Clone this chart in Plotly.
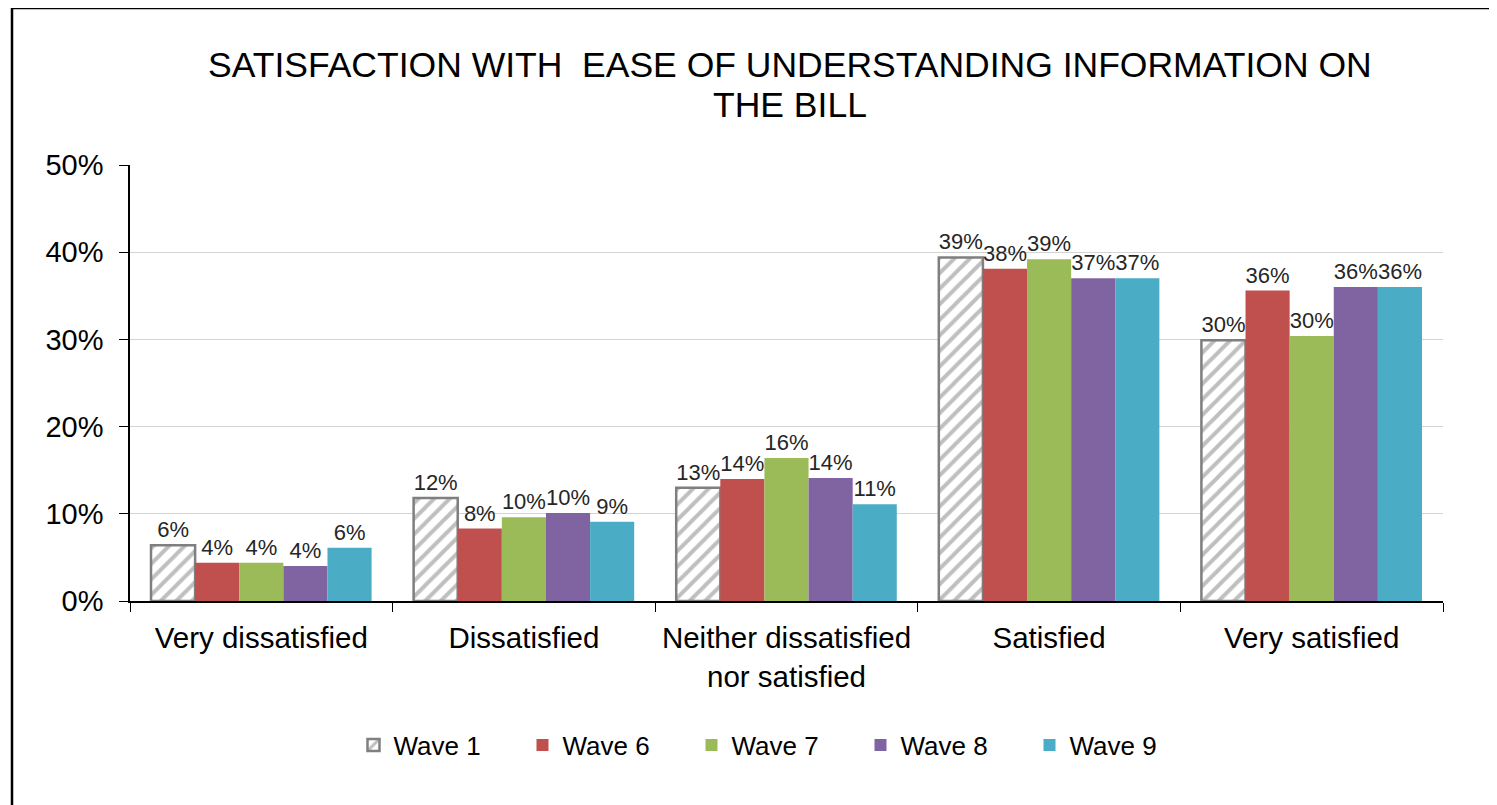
import plotly.graph_objects as go

categories = ["Very dissatisfied", "Dissatisfied", "Neither dissatisfied<br>nor satisfied", "Satisfied", "Very satisfied"]
series_names = ["Wave 1", "Wave 6", "Wave 7", "Wave 8", "Wave 9"]
wave1 = [0.064, 0.118, 0.130, 0.394, 0.299]
wave6 = [0.044, 0.083, 0.140, 0.381, 0.356]
wave7 = [0.044, 0.096, 0.164, 0.392, 0.304]
wave8 = [0.040, 0.101, 0.141, 0.370, 0.360]
wave9 = [0.061, 0.091, 0.111, 0.370, 0.360]
series_values = [wave1, wave6, wave7, wave8, wave9]
colors = ["#FFFFFF", "#C0504D", "#9BBB59", "#8064A2", "#4BACC6"]
y_ticks = [0, 0.1, 0.2, 0.3, 0.4, 0.5]
title_lines = ["SATISFACTION WITH  EASE OF UNDERSTANDING INFORMATION ON", "THE BILL"]

FONT = "Liberation Sans, Arial, sans-serif"

fig = go.Figure()
for i, (name, vals) in enumerate(zip(series_names, series_values)):
    if i == 0:
        marker = dict(color="white",
                      pattern=dict(shape="/", fgcolor="#7F7F7F", bgcolor="white", size=11, solidity=0.36),
                      line=dict(color="#7F7F7F", width=2.5))
    else:
        marker = dict(color=colors[i], line=dict(width=0))
    fig.add_trace(go.Bar(
        name=name, x=categories, y=vals, marker=marker,
        text=vals, texttemplate="%{y:.0%}", textposition="outside",
        textfont=dict(family=FONT, size=22, color="#262626"),
        constraintext="none", cliponaxis=False,
    ))

# page has an 8px body margin; compensate
OFF = 8
W, H = 1497 - OFF, 805 - OFF
L, T = 130 - OFF, 165 - OFF
R = W - (1443 - OFF)
B = H - (601 - OFF)
pw, ph = W - L - R, H - T - B

def px(x):
    return (x - OFF - L) / pw

def py(y):
    return (H - B - (y - OFF)) / ph

title_y = [65, 105]
annotations = [dict(text=t, xref="paper", yref="paper", x=px(790), y=py(yy),
                    xanchor="center", yanchor="middle", showarrow=False,
                    font=dict(family=FONT, size=35.5, color="#000000"))
               for t, yy in zip(title_lines, title_y)]

fig.update_layout(
    width=W, height=H,
    margin=dict(l=L, r=R, t=T, b=B, autoexpand=False),
    paper_bgcolor="white", plot_bgcolor="white",
    font=dict(family=FONT, size=29, color="#000000"),
    barmode="group", bargap=0.16, bargroupgap=0,
    showlegend=True,
    legend=dict(orientation="h", x=px(776), xanchor="center", y=py(745), yanchor="middle",
                font=dict(family=FONT, size=26, color="#000000"),
                entrywidth=124, itemwidth=30, traceorder="normal"),
    xaxis=dict(showline=True, linecolor="#000000", linewidth=1.5,
               ticks="outside", ticklen=9, tickcolor="#000000", tickson="boundaries",
               tickfont=dict(family=FONT, size=29.5, color="#000000"),
               ticklabelstandoff=10, showgrid=False),
    yaxis=dict(range=[0, 0.5], tickvals=y_ticks, tickformat=".0%",
               showline=True, linecolor="#000000", linewidth=1.5,
               ticks="outside", ticklen=9, tickcolor="#000000",
               showgrid=True, gridcolor="#D4D4D4", gridwidth=1.2,
               tickfont=dict(family=FONT, size=29, color="#000000"),
               ticklabelstandoff=10, zeroline=False),
    annotations=annotations,
    shapes=[dict(type="rect", xref="paper", yref="paper",
                 x0=px(12), x1=px(1530), y0=py(840), y1=py(8),
                 line=dict(color="#000000", width=2.5), fillcolor="rgba(0,0,0,0)", layer="below")],
)

fig.write_html("out.html")
